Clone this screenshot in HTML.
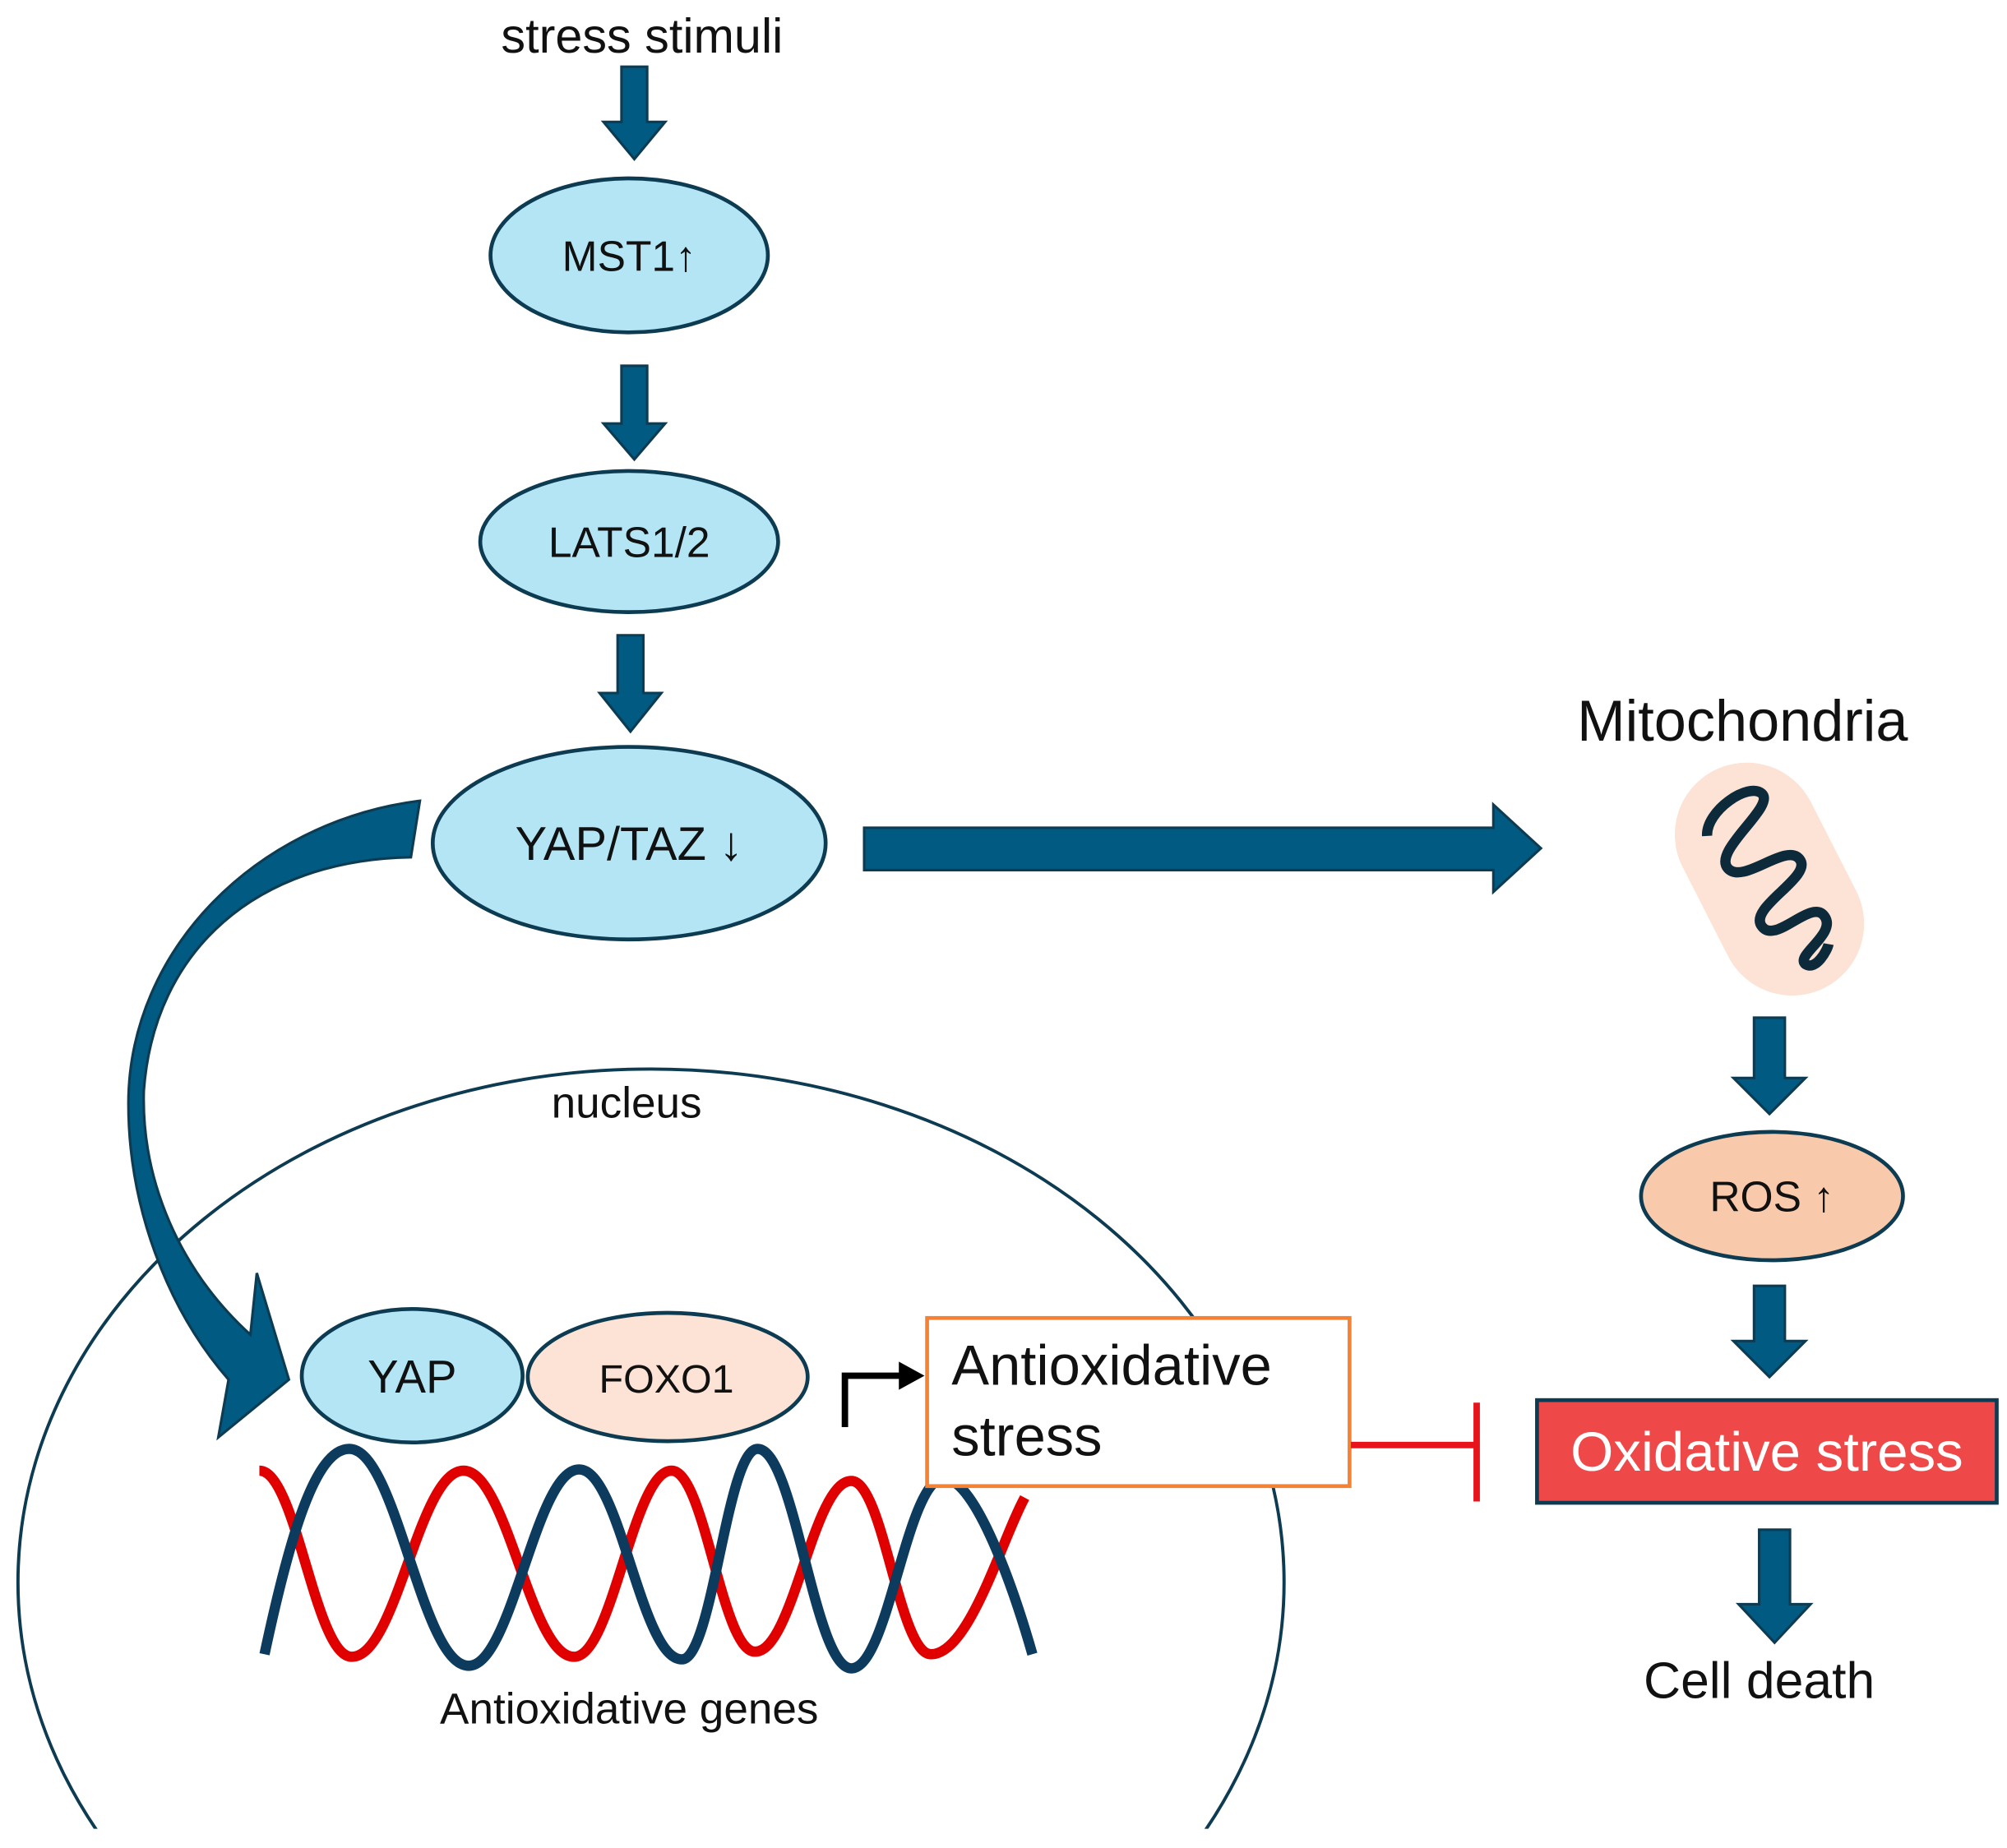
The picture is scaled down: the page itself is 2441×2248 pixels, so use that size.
<!DOCTYPE html>
<html><head><meta charset="utf-8"><style>
html,body{margin:0;padding:0;background:#fff;overflow:hidden;width:2441px;height:2248px}
svg{display:block}
text{font-family:"Liberation Sans",sans-serif;fill:#111}
</style></head><body>
<svg width="2441" height="2248" viewBox="0 0 1563 1440" preserveAspectRatio="none" xmlns="http://www.w3.org/2000/svg">
<defs>
<clipPath id="cp"><rect x="0" y="0" width="1563" height="1425"/></clipPath>
</defs>
<g fill="#005A82" stroke="#0d3b52" stroke-width="2">
<polygon points="484,52 504,52 504,95 518,95 494,124 470,95 484,95"/>
<polygon points="484,285 504,285 504,330 518,330 494,358 470,330 484,330"/>
<polygon points="481,495 501,495 501,540 515,540 491,570 467,540 481,540"/>
<polygon points="673,645 1163,645 1163,627 1200,661 1163,695 1163,678 673,678"/>
<polygon points="1366,793 1390,793 1390,840 1406,840 1378,868 1350,840 1366,840"/>
<polygon points="1366,1002 1390,1002 1390,1045 1406,1045 1378,1073 1350,1045 1366,1045"/>
<polygon points="1370,1192 1394,1192 1394,1250 1410,1250 1382,1280 1354,1250 1370,1250"/>
</g>
<text x="500" y="41" font-size="38" text-anchor="middle">stress stimuli</text>
<g stroke="#0d3b52" stroke-width="3">
<ellipse cx="490" cy="199" rx="108" ry="60" fill="#B3E5F5"/>
<ellipse cx="490" cy="422" rx="116" ry="55" fill="#B3E5F5"/>
<ellipse cx="490" cy="657" rx="153" ry="75" fill="#B3E5F5"/>
<ellipse cx="1380" cy="932" rx="102" ry="50" fill="#F9C9AC"/>
</g>
<text x="490" y="211" font-size="33" text-anchor="middle">MST1↑</text>
<text x="490" y="434" font-size="33" text-anchor="middle">LATS1/2</text>
<text x="490" y="670" font-size="37" text-anchor="middle">YAP/TAZ ↓</text>
<text x="1380" y="944" font-size="33" text-anchor="middle">ROS ↑</text>
<text x="1357" y="577" font-size="45" text-anchor="middle">Mitochondria</text>
<g transform="translate(1378,685) rotate(-27)">
<rect x="-56" y="-95" width="112" height="190" rx="56" fill="#FCE3D5"/>
<path d="M-28,-52 C-20,-70 20,-75 25,-62 C30,-48 -30,-40 -25,-22 C-20,-5 25,-20 28,-3 C31,14 -25,12 -22,30 C-19,48 22,28 25,45 C28,62 -10,62 -5,72 C0,80 15,70 18,66" fill="none" stroke="#0d2a3a" stroke-width="8"/>
</g>
<rect x="1197" y="1091" width="358" height="80" fill="#EE4848" stroke="#0d3b52" stroke-width="3"/>
<text x="1376" y="1146" font-size="43" text-anchor="middle" style="fill:#fff">Oxidative stress</text>
<text x="1370" y="1323" font-size="40" text-anchor="middle">Cell death</text>
<g clip-path="url(#cp)">
<ellipse cx="507" cy="1233" rx="493" ry="400" fill="none" stroke="#0d3b52" stroke-width="2.5"/>
</g>
<text x="488" y="871" font-size="34" text-anchor="middle">nucleus</text>
<path d="M327,624 C200,640 100,740 100,860 C100,940 130,1020 178,1075 L170,1120 L225,1075 L200,992 L195,1040 C140,990 110,920 112,850 C120,740 200,670 320,668 Z" fill="#005A82" stroke="#0d3b52" stroke-width="2"/>
<path d="M202,1146 C231,1146 245,1291 274,1291 C309,1291 326,1146 361,1146 C395,1146 413,1291 447,1291 C477,1291 493,1146 523,1146 C549,1146 562,1287 588,1287 C618,1287 633,1154 663,1154 C688,1154 700,1289 725,1289 C755,1289 780,1200 798,1167" fill="none" stroke="#E00000" stroke-width="8"/>
<path d="M206,1289 C225,1200 245,1129 272,1129 C309,1129 328,1298 365,1298 C399,1298 417,1145 451,1145 C483,1145 499,1293 531,1293 C555,1293 566,1129 590,1129 C619,1129 634,1300 663,1300 C692,1300 706,1152 735,1152 C760,1152 790,1240 804,1289" fill="none" stroke="#0d3b5e" stroke-width="8"/>
<g stroke="#0d3b52" stroke-width="3">
<ellipse cx="321" cy="1072" rx="86" ry="52" fill="#B3E5F5"/>
<ellipse cx="520" cy="1073" rx="109" ry="50" fill="#FCE3D5"/>
</g>
<text x="321" y="1085" font-size="36" text-anchor="middle">YAP</text>
<text x="519" y="1085" font-size="31" text-anchor="middle">FOXO1</text>
<path d="M658,1112 L658,1072 L702,1072" fill="none" stroke="#000" stroke-width="5"/>
<polygon points="700,1061 720,1072 700,1083" fill="#000"/>
<rect x="722" y="1027" width="329" height="131" fill="#fff" stroke="#F58233" stroke-width="3"/>
<text x="741" y="1079" font-size="44">Antioxidative</text>
<text x="741" y="1134" font-size="44">stress</text>
<path d="M1052,1126 L1150,1126 M1150,1093 L1150,1170" fill="none" stroke="#E8141B" stroke-width="5"/>
<text x="490" y="1343" font-size="34" text-anchor="middle">Antioxidative genes</text>
</svg>
</body></html>
